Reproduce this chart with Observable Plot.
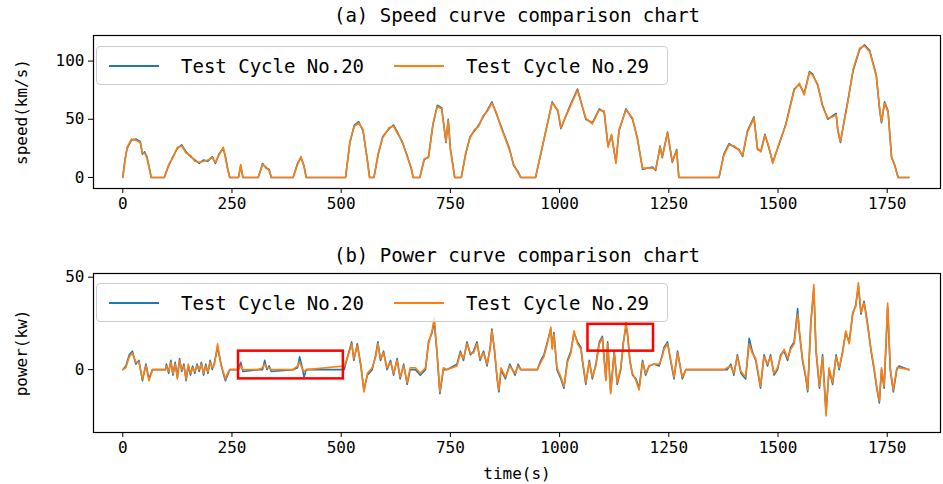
<!DOCTYPE html>
<html><head><meta charset="utf-8">
<script src="https://cdn.jsdelivr.net/npm/d3@7"></script>
<script src="https://cdn.jsdelivr.net/npm/@observablehq/plot@0.6"></script>
<style>
body{margin:0;background:#fff;font-family:"DejaVu Sans Mono",monospace;}
#wrap{position:relative;width:943px;}
.legend{position:absolute;left:96px;width:570px;height:37px;border:1px solid #ccc;border-radius:4px;background:rgba(255,255,255,0.8);font-size:19px;display:flex;align-items:center;}
.legend span.sw{display:inline-block;width:50px;height:2px;margin:0 22px 0 12px;}
.legend .item{display:flex;align-items:center;width:285px;}
</style></head>
<body><div id="wrap"></div>
<script>
const cycle20 = "Test Cycle No.20", cycle29 = "Test Cycle No.29";
const xTicks = [0, 250, 500, 750, 1000, 1250, 1500, 1750];

const speedT = [0,5,10,20,30,40,45,50,55,60,65,95,105,115,125,135,145,155,165,175,185,195,205,212,220,230,235,240,245,265,270,275,310,320,328,335,340,390,400,408,415,420,510,520,530,540,550,560,565,575,585,595,610,620,630,640,650,660,665,680,690,700,710,720,730,740,745,750,760,775,785,795,805,815,825,835,845,855,865,875,885,895,905,911,945,957,983,996,1003,1022,1041,1060,1075,1091,1102,1111,1119,1129,1136,1152,1167,1178,1190,1213,1220,1230,1235,1247,1258,1268,1273,1365,1376,1388,1400,1411,1419,1430,1445,1453,1461,1470,1478,1488,1503,1518,1537,1549,1560,1572,1579,1591,1602,1614,1625,1633,1637,1643,1652,1660,1672,1687,1698,1710,1725,1733,1737,1744,1752,1760,1767,1775,1800];
const speed20 = [0,15,25,32,33,31,20,22,18,10,0,0,10,18,25,28,22,18,15,12,15,14,18,12,20,25,18,8,0,0,10,0,0,12,8,7,0,0,12,17,10,0,0,30,45,48,40,15,0,0,20,35,42,45,38,30,20,8,0,0,15,18,45,62,60,30,50,25,0,0,20,35,40,45,52,58,65,55,45,35,25,10,5,0,0,20,65,57,42,60,76,50,47,59,56,27,36,13,40,59,50,34,7,9,6,27,17,39,13,24,0,0,20,29,26,24,18,40,52,24,23,37,27,13,29,46,76,80,72,91,89,79,62,50,53,55,40,30,50,66,92,110,114,109,88,57,47,65,57,17,11,0,0];
const speed29 = [0,14,26,33,32,30,21,21,17,9,0,0,11,17,26,27,21,19,14,13,14,15,17,13,19,26,17,7,0,0,11,0,0,11,9,6,0,0,11,18,9,0,0,31,44,47,41,14,0,0,21,34,43,44,37,31,19,9,0,0,16,17,46,61,59,31,49,24,0,0,21,34,41,44,53,57,64,56,44,34,24,11,4,0,0,21,64,58,43,59,75,51,46,58,57,26,37,12,41,58,51,33,8,8,7,26,18,38,14,23,0,0,19,28,27,23,19,39,51,25,22,36,28,12,30,45,75,81,71,90,88,80,61,51,52,54,41,31,49,65,93,111,113,108,87,58,48,64,56,18,10,0,0];

const powT = [0,7,15,22,30,37,45,53,60,68,98,100,105,110,115,120,125,130,135,140,145,150,155,160,165,170,175,180,185,190,195,200,205,210,217,225,230,235,240,245,265,270,275,310,320,325,330,335,340,390,400,405,410,415,420,507,518,524,529,537,545,552,560,571,579,584,590,597,605,613,620,628,635,643,651,658,670,681,693,700,708,713,719,726,734,742,765,773,780,788,796,803,811,818,826,834,841,845,851,857,861,866,876,886,898,905,911,949,957,964,972,980,983,987,994,1003,1010,1018,1026,1033,1041,1049,1052,1060,1068,1075,1083,1091,1098,1106,1110,1117,1125,1132,1140,1146,1152,1155,1161,1167,1175,1182,1190,1197,1205,1216,1228,1235,1239,1247,1254,1262,1270,1281,1289,1376,1384,1392,1399,1407,1415,1426,1434,1441,1449,1460,1468,1476,1483,1491,1499,1506,1514,1522,1529,1537,1545,1549,1556,1564,1568,1575,1582,1587,1595,1602,1610,1617,1625,1633,1640,1648,1655,1663,1671,1678,1684,1690,1697,1705,1713,1720,1726,1732,1737,1743,1751,1757,1764,1772,1777,1800];
const power20 = [0,2,8,10,3,5,-6,3,-5,0,0,3,-2,5,-3,4,-4,6,-1,3,-6,2,-3,2,-2,3,-1,4,-3,3,-2,5,0,4,12,3,-2,-6,-3,0,0,4,-1,0,0,5,0,2,-1,0,1,7,2,-4,0,0,10,15,5,14,2,-11,-3,0,8,15,5,10,0,5,-3,6,-5,3,-8,0,0,-3,0,15,20,26,10,-13,0,0,3,10,5,15,8,10,15,5,10,2,12,22,10,-5,-12,0,-5,3,-3,3,0,0,5,8,15,22,12,20,0,-5,-10,5,10,20,15,12,5,-8,5,-5,3,15,18,-5,15,-12,10,-8,0,15,23,20,5,-3,-5,-10,5,-3,2,3,2,8,12,15,5,-5,10,-5,0,0,0,3,-3,8,-2,-5,17,10,5,-10,8,2,8,-3,0,8,10,5,12,15,33,20,5,-5,-12,25,44,10,-10,8,-23,0,-8,8,0,10,20,15,30,35,45,30,37,25,10,0,-10,-18,0,-10,34,0,-12,0,2,0];
const power29 = [0,1,7,9,4,4,-5,2,-6,0,0,2,-1,4,-2,3,-5,5,0,2,-5,3,-2,1,-1,2,0,3,-2,2,-1,4,1,3,14,2,-1,-5,-2,0,0,2,0,0,1,3,1,1,0,0,2,4,1,-1,0,2,9,14,6,13,3,-12,-2,1,7,14,6,9,1,4,-2,5,-4,2,-7,1,1,-2,1,14,21,28,11,-12,1,0,2,9,6,14,9,9,14,6,9,3,11,21,11,-4,-11,1,-4,2,-2,2,0,0,4,7,14,23,11,19,1,-4,-9,4,9,21,14,11,6,-7,4,-4,2,14,17,-6,14,-13,9,-7,1,14,26,21,4,-2,-6,-11,4,-2,2,3,3,7,11,14,6,-4,9,-4,0,0,1,2,-2,7,-1,-4,14,9,6,-9,7,3,7,-2,1,7,11,6,11,14,30,21,6,-4,-11,24,46,11,-9,7,-25,1,-7,7,1,9,21,14,31,34,47,31,36,24,11,1,-9,-17,1,-9,36,1,-11,1,1,0];

const boxT0 = [265, 1065], boxT1 = [505, 1215], boxV0 = [-5, 10], boxV1 = [10, 24.5];

const speedData = speedT.flatMap((t, i) => [{t, v: speed20[i], s: cycle20}, {t, v: speed29[i], s: cycle29}]);
const powData = powT.flatMap((t, i) => [{t, v: power20[i], s: cycle20}, {t, v: power29[i], s: cycle29}]);
const boxes = boxT0.map((x, i) => ({x1: x, x2: boxT1[i], y1: boxV0[i], y2: boxV1[i]}));
const colors = {[cycle20]: "#1f77b4", [cycle29]: "#ff7f0e"};

function panel(data, opts) {
  return Plot.plot({
    width: 943, height: opts.height,
    marginLeft: 93, marginRight: 3, marginTop: opts.mt, marginBottom: opts.mb,
    style: {fontFamily: "DejaVu Sans Mono", fontSize: "16px", color: "#000", background: "#fff"},
    x: {domain: [-67, 1872]},
    y: {domain: opts.ydom},
    marks: [
      Plot.axisX({ticks: xTicks, tickFormat: d3.format("d"), tickSize: 5, tickPadding: 4, fontSize: 16,
        label: opts.xlabel || null, labelAnchor: "center", labelArrow: "none", labelOffset: 46}),
      Plot.axisY({ticks: opts.yticks, tickFormat: d3.format("d"), tickSize: 5, fontSize: 16,
        label: opts.ylabel, labelAnchor: "center", labelArrow: "none", labelOffset: 78}),
      Plot.lineY(data.filter(d => d.s === cycle20), {x: "t", y: "v", stroke: colors[cycle20], strokeWidth: 1.6}),
      Plot.lineY(data.filter(d => d.s === cycle29), {x: "t", y: "v", stroke: colors[cycle29], strokeWidth: 1.6}),
      ...(opts.extra || []),
      Plot.frame({stroke: "#000", strokeWidth: 1.2}),
      Plot.text([opts.title], {frameAnchor: "top", dy: -opts.mt + 8, fontSize: 19, lineAnchor: "top", fill: "#000"})
    ]
  });
}

const wrap = document.getElementById("wrap");
wrap.append(panel(speedData, {height: 240, mt: 35, mb: 52, ydom: [-9.5, 122], yticks: [0, 50, 100],
  ylabel: "speed(km/s)", title: "(a) Speed curve comparison chart"}));
wrap.append(panel(powData, {height: 244, mt: 33, mb: 52, ydom: [-34, 52], yticks: [0, 50],
  ylabel: "power(kw)", xlabel: "time(s)", title: "(b) Power curve comparison chart",
  extra: [Plot.rect(boxes, {x1: "x1", x2: "x2", y1: "y1", y2: "y2", fill: "none", stroke: "#ff0000", strokeWidth: 2.5})]}));

[46, 283].forEach(top => {
  const lg = document.createElement("div");
  lg.className = "legend";
  lg.style.top = top + "px";
  lg.innerHTML = [cycle20, cycle29].map(s =>
    `<div class="item"><span class="sw" style="background:${colors[s]}"></span>${s}</div>`).join("");
  wrap.append(lg);
});
</script></body></html>
